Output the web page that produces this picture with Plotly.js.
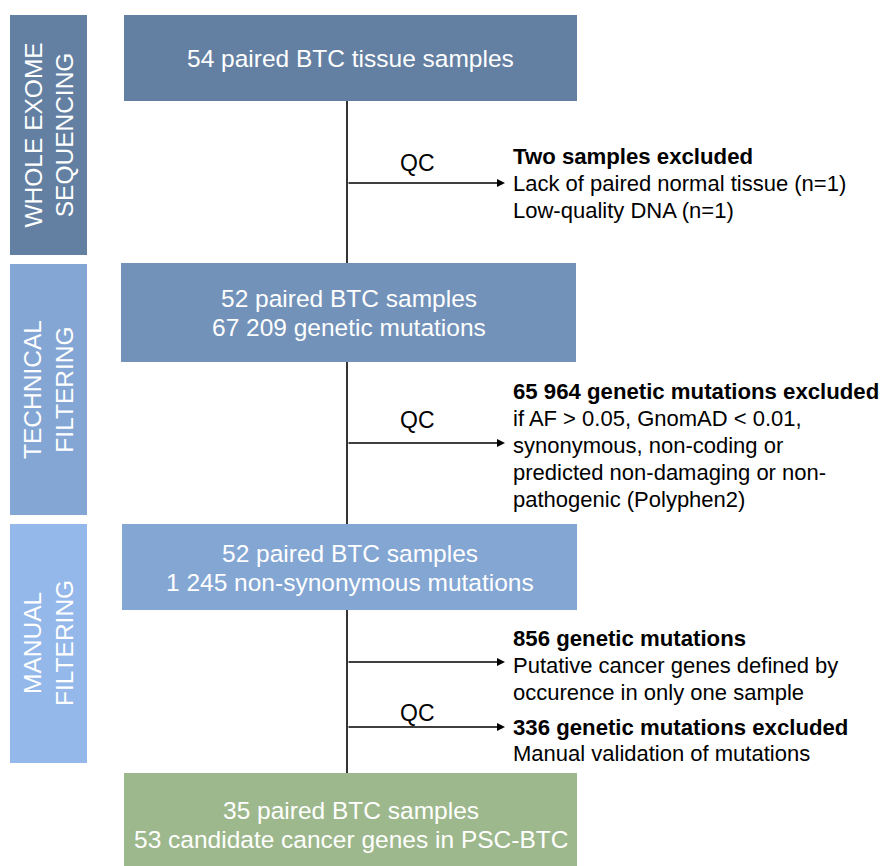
<!DOCTYPE html>
<html><head><meta charset="utf-8">
<script src="https://cdn.plot.ly/plotly-3.0.1.min.js"></script>
<style>html,body{margin:0;padding:0;background:#fff}#c{width:881px;height:866px}</style>
</head><body><div id="c"></div>
<script>
// ---- content ----
const stageLabels = [["WHOLE EXOME","SEQUENCING"],["TECHNICAL","FILTERING"],["MANUAL","FILTERING"]];
const stepTexts = [
  ["54 paired BTC tissue samples"],
  ["52 paired BTC samples","67 209 genetic mutations"],
  ["52 paired BTC samples","1 245 non-synonymous mutations"],
  ["35 paired BTC samples","53 candidate cancer genes in PSC-BTC"]
];
const exclusionTitles = ["Two samples excluded","65 964 genetic mutations excluded","856 genetic mutations","336 genetic mutations excluded"];
const exclusionDetails = [
  ["Lack of paired normal tissue (n=1)","Low-quality DNA (n=1)"],
  ["if AF &gt; 0.05, GnomAD &lt; 0.01,","synonymous, non-coding or","predicted non-damaging or non-","pathogenic (Polyphen2)"],
  ["Putative cancer genes defined by","occurence in only one sample"],
  ["Manual validation of mutations"]
];
const qcLabel = "QC";

// ---- layout geometry ----
const sideBoxes = [[10,87,15,255],[10,87,264,515],[10,87,524,763]];
const sideColors = ["#637fa2","#84a6d4","#94b8ea"];
const stepBoxes = [[124,577,15,101],[121,576,263,362],[122,577,524,610],[124,577,773,866]];
const stepColors = ["#637fa2","#7292b9","#84a6d3","#9db88c"];
const stepLineY = [[58],[298,327],[553,582],[810,839]];
const trunkX = 347;
const trunks = [[101,263],[362,524],[610,773]];
const arrowsY = [183,443,662,727];
const arrowTip = 505;
const textX = 511;
const titleY = [156,391,638,727];
const detailY = [[183,210],[418,445,472,499],[665,692],[753]];
const qcPos = [[417,163],[417,420],[417,713]];

const font = "Liberation Sans, Arial, sans-serif";
const shapes = [], ann = [];
sideBoxes.forEach((b,i)=>shapes.push({type:'rect',xref:'x',yref:'y',x0:b[0],x1:b[1],y0:b[2],y1:b[3],fillcolor:sideColors[i],line:{width:0},layer:'below'}));
stepBoxes.forEach((b,i)=>shapes.push({type:'rect',xref:'x',yref:'y',x0:b[0],x1:b[1],y0:b[2],y1:b[3],fillcolor:stepColors[i],line:{width:0},layer:'below'}));
trunks.forEach(t=>shapes.push({type:'line',xref:'x',yref:'y',x0:trunkX,x1:trunkX,y0:t[0],y1:t[1],line:{color:'#000',width:1.6}}));

stageLabels.forEach((lines,i)=>{
  const b=sideBoxes[i];
  ann.push({x:(b[0]+b[1])/2,y:(b[2]+b[3])/2,xref:'x',yref:'y',text:lines.join('<br>'),showarrow:false,textangle:-90,
    font:{family:font,size:24.5,color:'#fff'},xanchor:'center',yanchor:'middle',align:'center'});
});
stepTexts.forEach((lines,i)=>{
  const b=stepBoxes[i];
  lines.forEach((t,j)=>ann.push({x:(b[0]+b[1])/2,y:stepLineY[i][j],xref:'x',yref:'y',text:t,showarrow:false,
    font:{family:font,size:24.5,color:'#fff'},xanchor:'center',yanchor:'middle'}));
});
arrowsY.forEach(y=>ann.push({x:arrowTip,y:y,ax:trunkX,ay:y,xref:'x',yref:'y',axref:'x',ayref:'y',text:'',showarrow:true,
  arrowhead:2,arrowsize:1,arrowwidth:1.6,arrowcolor:'#000',standoff:0}));
exclusionTitles.forEach((t,i)=>{
  ann.push({x:textX,y:titleY[i],xref:'x',yref:'y',text:'<b>'+t+'</b>',showarrow:false,font:{family:font,size:22.2,color:'#000'},xanchor:'left',yanchor:'middle'});
  exclusionDetails[i].forEach((d,j)=>ann.push({x:textX,y:detailY[i][j],xref:'x',yref:'y',text:d,showarrow:false,font:{family:font,size:22,color:'#000'},xanchor:'left',yanchor:'middle'}));
});
qcPos.forEach(p=>ann.push({x:p[0],y:p[1],xref:'x',yref:'y',text:qcLabel,showarrow:false,font:{family:font,size:23,color:'#000'},xanchor:'center',yanchor:'middle'}));

Plotly.newPlot('c',[],{
  width:881,height:866,margin:{l:0,r:0,t:0,b:0},paper_bgcolor:'#fff',plot_bgcolor:'#fff',
  xaxis:{range:[0,881],visible:false,fixedrange:true},
  yaxis:{range:[866,0],visible:false,fixedrange:true},
  shapes:shapes,annotations:ann,showlegend:false
},{staticPlot:true});
</script></body></html>
